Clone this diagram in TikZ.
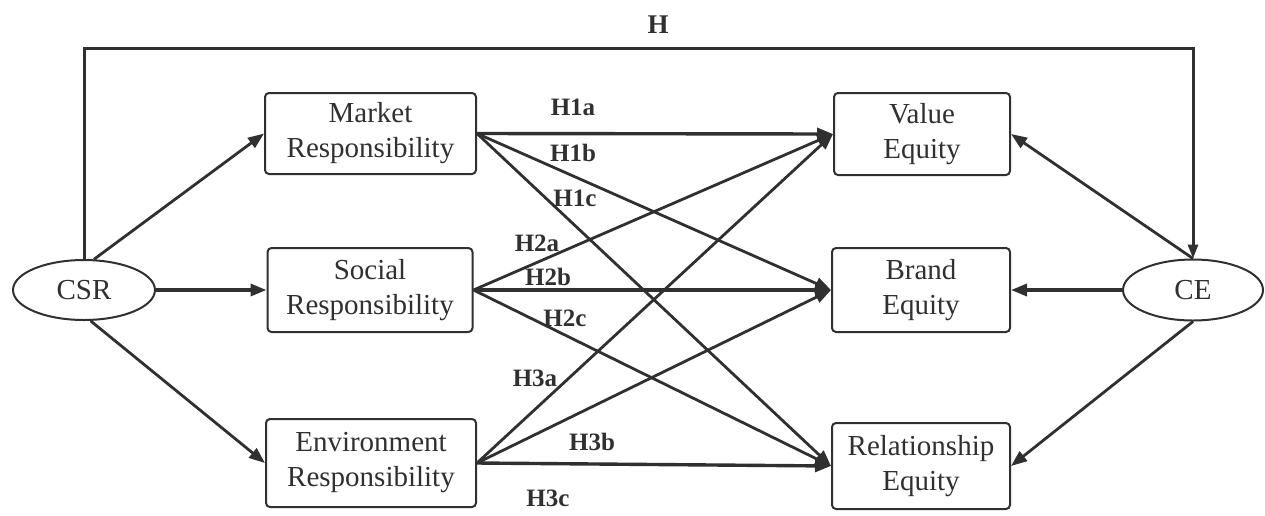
\documentclass[tikz,border=0pt]{standalone}
\usepackage{fontspec}
\setmainfont{Liberation Serif}
\usetikzlibrary{arrows.meta,shapes.geometric}
\definecolor{ink}{HTML}{303030}
\tikzset{
  box/.style={draw=ink, line width=2pt, rounded corners=4pt, fill=white, align=center, inner sep=0pt,
    text=ink, font=\fontsize{29}{35}\selectfont},
  oval/.style={draw=ink, line width=2pt, ellipse, fill=white, inner sep=0pt, text=ink,
    font=\fontsize{29}{35}\selectfont},
  link/.style={draw=ink, line width=2.8pt, -{Triangle[length=16pt,width=12pt]}},
  hlink/.style={link, line width=3.4pt},
  lab/.style={text=ink, font=\fontsize{25}{25}\bfseries\selectfont, inner sep=0pt}
}
\begin{document}
\begin{tikzpicture}[x=1pt,y=-1pt]
\useasboundingbox (0,0) rectangle (1265,515);
% nodes
\node[box, minimum width=211pt, minimum height=81pt] (market) at (370.5,133.5) {Market\\Responsibility};
\node[box, minimum width=205pt, minimum height=84pt] (social) at (370,290) {Social\\Responsibility};
\node[box, minimum width=210pt, minimum height=88pt] (env) at (371,463) {Environment\\Responsibility};
\node[box, minimum width=176pt, minimum height=82pt] (value) at (922,134) {Value\\Equity};
\node[box, minimum width=178pt, minimum height=84pt] (brand) at (921,290) {Brand\\Equity};
\node[box, minimum width=178pt, minimum height=86pt] (rel) at (921,466) {Relationship\\Equity};
\node[oval, minimum width=142pt, minimum height=60pt] (csr) at (84,290) {CSR};
\node[oval, minimum width=140pt, minimum height=61pt] (ce) at (1193,290) {CE};
\coordinate (htop) at (640,48);
% H path
\draw[draw=ink, line width=3pt, -{Triangle[length=14pt,width=10pt]}] (csr.north) |- (htop) -| (ce.north);
\node[lab, font=\fontsize{27}{27}\bfseries\selectfont] (hlab) at (658,25) {H};
% CSR links
\draw[link] (csr.72) -- (market.west);
\draw[hlink] (csr.east) -- (social.west);
\draw[link] (csr.-78) -- (env.west);
% CE links
\draw[link] (ce.north) -- (value.east);
\draw[hlink] (ce.west) -- (brand.east);
\draw[link] (ce.south) -- (rel.east);
% hypotheses
\draw[hlink] (market.east) -- (value.west);
\draw[link] (market.east) -- (brand.west);
\draw[link] (market.east) -- (rel.west);
\draw[link] (social.east) -- (value.west);
\draw[hlink] (social.east) -- (brand.west);
\draw[link] (social.east) -- (rel.west);
\draw[link] (env.east) -- (value.west);
\draw[link] (env.east) -- (brand.west);
\draw[hlink] (env.east) -- (rel.west);
% labels
\node[lab] (h1a) at (573,107) {H1a};
\node[lab] (h1b) at (573,153) {H1b};
\node[lab] (h1c) at (575,198) {H1c};
\node[lab] (h2a) at (537,243) {H2a};
\node[lab] (h2b) at (548,277) {H2b};
\node[lab] (h2c) at (565,318) {H2c};
\node[lab] (h3a) at (535,378) {H3a};
\node[lab] (h3b) at (592,442) {H3b};
\node[lab] (h3c) at (548,498) {H3c};
\end{tikzpicture}
\end{document}
